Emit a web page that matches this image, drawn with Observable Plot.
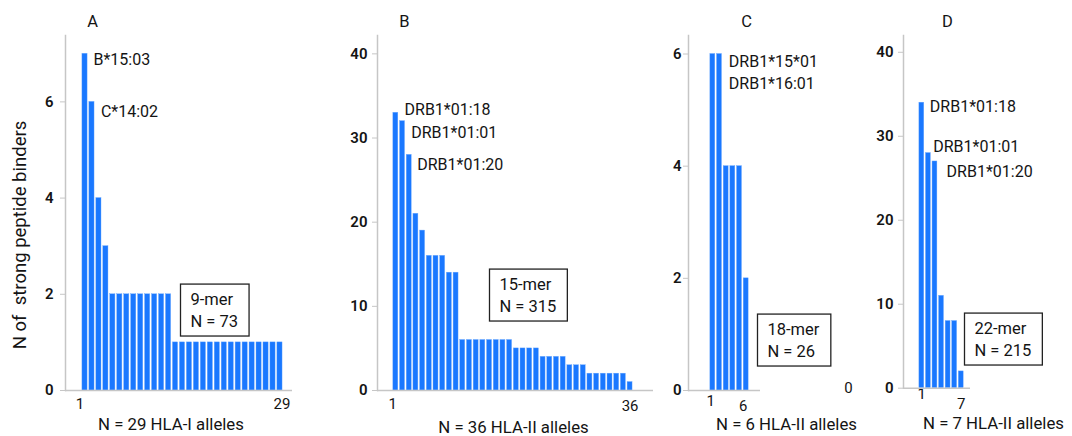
<!DOCTYPE html>
<html><head><meta charset="utf-8">
<script src="https://cdn.jsdelivr.net/npm/d3@7"></script>
<script src="https://cdn.jsdelivr.net/npm/@observablehq/plot@0.6"></script>
<style>
body{margin:0;background:#fff}
#wrap{position:relative;width:1072px;height:436px;overflow:hidden;background:#fff}
.panel{position:absolute;top:0}
</style>
</head><body><div id="wrap"></div>
<script>
// ---- data ----
const panelTitles = ["A", "B", "C", "D"];
const valuesA = [7,6,4,3,2,2,2,2,2,2,2,2,2,1,1,1,1,1,1,1,1,1,1,1,1,1,1,1,1];
const valuesB = [33,32,28,21,19,16,16,16,14,14,6,6,6,6,6,6,6,6,5,5,5,5,4,4,4,4,3,3,3,2,2,2,2,2,2,1];
const valuesC = [6,6,4,4,4,2];
const valuesD = [34,28,27,11,8,8,2];
const yTicksA = [0,2,4,6];
const yTicksB = [0,10,20,30,40];
const yTicksC = [0,2,4,6];
const yTicksD = [0,10,20,30,40];
const xTicksA = [1,29];
const xTicksB = [1,36];
const xTicksC = [1,6];
const xTicksD = [1,7];
const xLabels = ["N = 29 HLA-I alleles","N = 36 HLA-II alleles","N = 6 HLA-II alleles","N = 7 HLA-II alleles"];
const yLabel = "N of\u00a0 strong peptide binders";
const annLabelsA = ["B*15:03","C*14:02"];
const annBarsA = [1,2];
const annLabelsB = ["DRB1*01:18","DRB1*01:01","DRB1*01:20"];
const annBarsB = [1,2,3];
const annLabelsC = ["DRB1*15*01","DRB1*16:01"];
const annBarsC = [1,2];
const annLabelsD = ["DRB1*01:18","DRB1*01:01","DRB1*01:20"];
const annBarsD = [1,2,3];
const boxTexts = ["9-mer\nN = 73","15-mer\nN = 315","18-mer\nN = 26","22-mer\nN = 215"];
const strayLabelC = "0";

const BLUE = "#1a78ff", AXIS = "#c6c6c6", INK = "#141414";
const FONT = "Roboto, 'Open Sans', sans-serif";

const configs = [
  {left:0, width:300, ml:65, mr:8, mb:46, xdomain:[-1.8,30.8], ymax:7.38,
   values:valuesA, yticks:yTicksA, xticks:xTicksA, tickPad:7, xtp:[8,8], xtdx:[-5,2],
   title:panelTitles[0], titleDx:27, xlabel:xLabels[0], xlDx:-8, xlDy:34,
   labels:annLabelsA, bars:annBarsA, off:[[8.5,6],[9,10]],
   box:boxTexts[0], boxDx:125, boxDy:254, ylabel:true},
  {left:300, width:360, ml:77, mr:7, mb:46, xdomain:[-1.74,39.5], ymax:42.18,
   values:valuesB, yticks:yTicksB, xticks:xTicksB, tickPad:5, xtp:[8,10], xtdx:[-3,0],
   title:panelTitles[1], titleDx:27, xlabel:xLabels[1], xlDx:-2, xlDy:37,
   labels:annLabelsB, bars:annBarsB, off:[[8.7,-3],[8.7,12],[8,10]],
   box:boxTexts[1], boxDx:122, boxDy:239},
  {left:660, width:200, ml:28, mr:100, mb:46, xdomain:[-2.65,8.15], ymax:6.33,
   values:valuesC, yticks:yTicksC, xticks:xTicksC, tickPad:2, xtp:[5,10], xtdx:[-2,-3],
   title:panelTitles[2], titleDx:58, xlabel:xLabels[2], xlDx:62, xlDy:34,
   labels:annLabelsC, bars:annBarsC, off:[[16,8],[9.3,30]],
   box:boxTexts[2], boxDx:79, boxDy:284, stray:strayLabelC},
  {left:860, width:212, ml:43, mr:102, mb:48.3, xdomain:[-1.79,8.41], ymax:42.0,
   values:valuesD, yticks:yTicksD, xticks:xTicksD, tickPad:5, xtp:[0,10], xtdx:[0,0],
   title:panelTitles[3], titleDx:44, xlabel:xLabels[3], xlDx:56.5, xlDy:35.5,
   labels:annLabelsD, bars:annBarsD, off:[[8,4.5],[4.8,-6],[11.6,10.6]],
   box:boxTexts[3], boxDx:71, boxDy:283}
];

const wrap = document.getElementById("wrap");

for (const c of configs) {
  const data = c.values.map((v,i) => ({i:i+1, v}));
  const annMarks = c.labels.map((lab,k) => {
    const b = c.bars[k];
    return Plot.text([{i:b, v:c.values[b-1], t:lab}], {
      x:"i", y:"v", text:"t", textAnchor:"start", lineAnchor:"middle",
      dx:c.off[k][0], dy:c.off[k][1], fontSize:16, fill:INK
    });
  });
  const marks = [
    Plot.rectY(data, {x1:d=>d.i-0.37, x2:d=>d.i+0.37, y:"v", fill:BLUE, stroke:"#6aa8ff", strokeWidth:0.4}),
    Plot.axisY({ticks:c.yticks, tickSize:5, tickPadding:c.tickPad, stroke:AXIS, fill:INK, fontSize:15, fontWeight:600, label:null, tickFormat:d=>String(d)}),
    Plot.axisX({ticks:[c.xticks[0]], tickSize:0, tickPadding:c.xtp[0], dx:c.xtdx[0], fill:INK, fontSize:15, label:null, tickFormat:d=>String(d)}),
    Plot.axisX({ticks:[c.xticks[1]], tickSize:0, tickPadding:c.xtp[1], dx:c.xtdx[1], fill:INK, fontSize:15, label:null, tickFormat:d=>String(d)}),
    Plot.ruleY([0], {stroke:AXIS, strokeWidth:1.5}),
    Plot.frame({anchor:"left", stroke:AXIS, strokeWidth:1.5}),
    Plot.text([c.title], {frameAnchor:"top-left", dx:c.titleDx, dy:-14, lineAnchor:"middle", textAnchor:"middle", fontSize:16.5, fill:INK}),
    Plot.text([c.xlabel], {frameAnchor:"bottom", dx:c.xlDx, dy:c.xlDy, lineAnchor:"middle", textAnchor:"middle", fontSize:16.8, fill:INK}),
    ...annMarks,
    Plot.text([c.box], {frameAnchor:"top-left", dx:c.boxDx, dy:c.boxDy, lineAnchor:"top", textAnchor:"start", fontSize:16.5, lineHeight:1.33, fill:INK, ariaDescription:"legendbox"})
  ];
  if (c.ylabel) {
    marks.push(Plot.text([yLabel], {frameAnchor:"left", dx:-45, dy:22, rotate:-90, lineAnchor:"middle", textAnchor:"middle", fontSize:18.5, fill:INK}));
  }
  if (c.stray) {
    marks.push(Plot.text([c.stray], {frameAnchor:"bottom-right", dx:88, dy:-2.5, lineAnchor:"middle", textAnchor:"middle", fontSize:15, fill:INK}));
  }
  const svg = Plot.plot({
    width:c.width, height:436,
    marginLeft:c.ml, marginRight:c.mr, marginTop:35, marginBottom:c.mb,
    style:{fontFamily:FONT, fontSize:"15px", color:INK, background:"transparent", overflow:"visible"},
    x:{domain:c.xdomain, axis:null},
    y:{domain:[0,c.ymax], axis:null},
    marks
  });
  const div = document.createElement("div");
  div.className = "panel";
  div.style.left = c.left + "px";
  div.appendChild(svg);
  wrap.appendChild(div);
  // draw a frame around the legend box text
  svg.querySelectorAll('g[aria-description="legendbox"]').forEach(g => {
    const bb = g.getBBox();
    const r = document.createElementNS("http://www.w3.org/2000/svg","rect");
    r.setAttribute("x", bb.x - 10);
    r.setAttribute("y", bb.y - 6);
    r.setAttribute("width", bb.width + 21);
    r.setAttribute("height", bb.height + 11);
    r.setAttribute("fill", "#fff");
    r.setAttribute("stroke", "#222");
    r.setAttribute("stroke-width", "1.3");
    g.insertBefore(r, g.firstChild);
  });
}
</script>
</body></html>
